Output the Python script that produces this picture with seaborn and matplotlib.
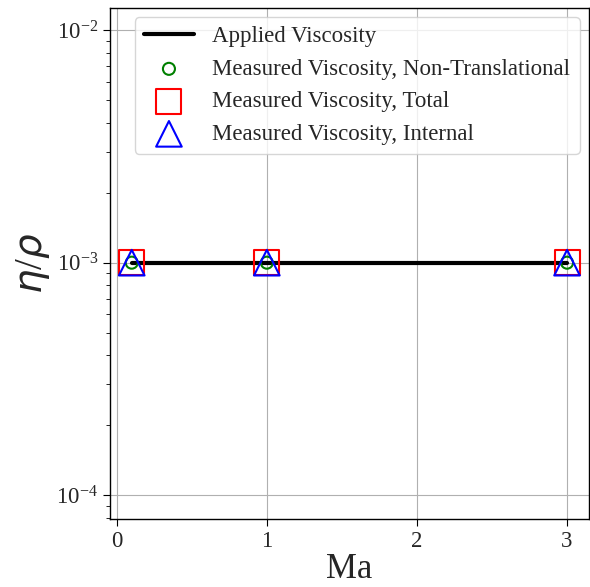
import numpy as np
import pandas as pd
import matplotlib
matplotlib.use("Agg")
import matplotlib.pyplot as plt
import seaborn as sns

mach = [0.1, 1.0, 3.0]
applied = [1e-3, 1e-3, 1e-3]
measured_nontrans = [1e-3, 1e-3, 1e-3]
measured_total = [1e-3, 1e-3, 1e-3]
measured_internal = [1e-3, 1e-3, 1e-3]

sns.set_style("ticks")
plt.rcParams["font.family"] = ["Liberation Serif", "DejaVu Serif"]
plt.rcParams["mathtext.fontset"] = "custom"
plt.rcParams["mathtext.rm"] = "Liberation Serif"
plt.rcParams["mathtext.it"] = "DejaVu Sans:italic"
plt.rcParams["mathtext.bf"] = "Liberation Serif:bold"

df = pd.DataFrame({"Ma": mach, "applied": applied, "nt": measured_nontrans,
                   "tot": measured_total, "int": measured_internal})

fig = plt.figure(figsize=(5.9, 5.87), dpi=100)
ax = fig.add_axes([0.1864, 0.1158, 0.8116, 0.8706])

sns.lineplot(data=df, x="Ma", y="applied", color="black", linewidth=3,
             ax=ax, label="Applied Viscosity")
sns.scatterplot(data=df, x="Ma", y="nt", marker="o", s=75, facecolor="none",
                edgecolor="green", linewidth=1.5, ax=ax,
                label="Measured Viscosity, Non-Translational", zorder=4)
sns.scatterplot(data=df, x="Ma", y="tot", marker="s", s=324, facecolor="none",
                edgecolor="red", linewidth=1.5, ax=ax,
                label="Measured Viscosity, Total", zorder=4)
sns.scatterplot(data=df, x="Ma", y="int", marker="^", s=340, facecolor="none",
                edgecolor="blue", linewidth=1.5, ax=ax,
                label="Measured Viscosity, Internal", zorder=5)

ax.set_yscale("log")
ax.set_ylim(7.9e-5, 1.245e-2)
ax.set_xlim(-0.045, 3.145)
ax.set_xticks([0, 1, 2, 3])
ax.grid(True, which="major", color="#b0b0b0", linewidth=0.8)
ax.set_axisbelow(True)
ax.tick_params(axis="both", which="major", labelsize=16.5, direction="out",
               color="black", length=5)
ax.tick_params(axis="both", which="minor", direction="out", color="black", length=3)
for s in ax.spines.values():
    s.set_color("black")
    s.set_linewidth(1.0)

ax.set_xlabel("Ma", fontsize=25, labelpad=1)
ax.set_ylabel(r"$\eta/\rho$", fontsize=28, labelpad=3)

ax.legend(loc="upper right", fontsize=16.5, framealpha=0.8,
          handlelength=2.2, borderaxespad=0.4)

fig.savefig("out.png", dpi=100)
